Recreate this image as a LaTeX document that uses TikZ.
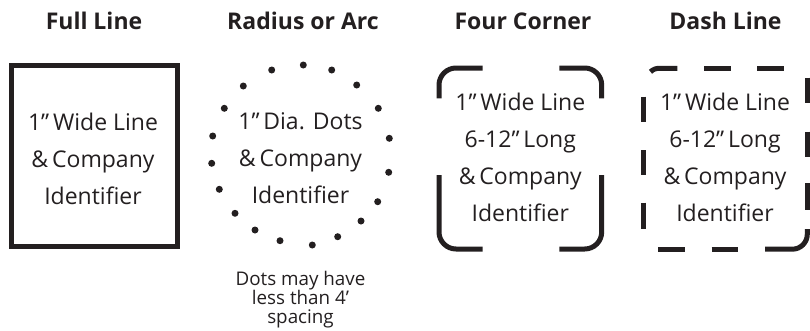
\documentclass[tikz,border=0pt]{standalone}
\usepackage{fontspec}
\setmainfont{Open Sans}
\definecolor{inkc}{RGB}{35,31,32}
\begin{document}
\begin{tikzpicture}[x=1pt,y=-1pt,
  ink/.style={line width=5pt, draw=inkc},
  title/.style={font=\bfseries\fontsize{23}{28}\selectfont, text=inkc, anchor=base, inner sep=0pt},
  body/.style={font=\fontsize{23}{37}\selectfont, align=center, text=inkc, anchor=base, inner sep=0pt},
  note/.style={font=\fontsize{18.8}{19}\selectfont, align=center, text=inkc, anchor=base, inner sep=0pt},
  dot/.style={fill=inkc}]
\useasboundingbox (0,0) rectangle (810,330);
% titles
\node[title] (t1) at (94,29) {Full Line};
\node[title] (t2) at (303,29) {Radius or Arc};
\node[title] (t3) at (523,29) {Four Corner};
\node[title] (t4) at (725.5,29) {Dash Line};
% full line
\draw[ink] (11.7,65.2) rectangle (177.5,246.7);
\node[body] (b1) at (93,204) {1”\,Wide Line\\\&\,Company\\Identifier};
% radius dots
\foreach \p in {(303.3,65),(331.7,70),(271.7,70),(356.7,85),(243.3,86),(378.3,108.3),(224.3,108.3),(389.3,138.3),(212.7,136),(388.7,172.3),(211.7,163.3),(377.7,201.7),(219.3,189.3),(361,221),(235,213.3),(337.7,236.7),(255,230),(312.3,245),(280,240.7)}
  \fill[dot] \p circle[radius=3.5pt];
\node[body] (b2) at (300.5,203.3) {1”\,Dia. Dots\\\&\,Company\\Identifier};
\node[note] (n2) at (300.5,323.3) {Dots may have\\less than 4’\\spacing};
% four corner
\draw[ink, rounded corners=17pt] (439,98.3) -- (439,68) -- (482.7,68);
\draw[ink, rounded corners=17pt] (559.3,68) -- (601.7,68) -- (601.7,98.3);
\draw[ink, rounded corners=17pt] (439,175) -- (439,249) -- (482.7,249);
\draw[ink, rounded corners=17pt] (559.3,249) -- (601.7,249) -- (601.7,175);
\node[body] (b3) at (520.3,221.7) {1”\,Wide Line\\6-12”\,Long\\\&\,Company\\Identifier};
% dash line
\draw[ink] (650.5,71.8) .. controls (653.5,69) and (656,68.3) .. (660,68.3) -- (677.3,68.3);
\draw[ink] (704,68.3) -- (730.7,68.3);
\draw[ink] (757.3,68.3) -- (784,68.3);
\draw[ink] (807.3,77.5) -- (807.3,103.3);
\draw[ink] (807.3,131.7) -- (807.3,156.7);
\draw[ink] (807.3,183.3) -- (807.3,210);
\draw[ink, rounded corners=15pt] (765,249.2) -- (807.3,249.2) -- (807.3,229);
\draw[ink] (658.3,249.2) -- (685,249.2);
\draw[ink] (711.7,249.2) -- (738.3,249.2);
\draw[ink] (643.3,96.7) -- (643.3,121.7);
\draw[ink] (643.3,150) -- (643.3,175);
\draw[ink] (643.3,202.7) -- (643.3,229.3);
\node[body] (b4) at (725,221.7) {1”\,Wide Line\\6-12”\,Long\\\&\,Company\\Identifier};
\end{tikzpicture}
\end{document}
